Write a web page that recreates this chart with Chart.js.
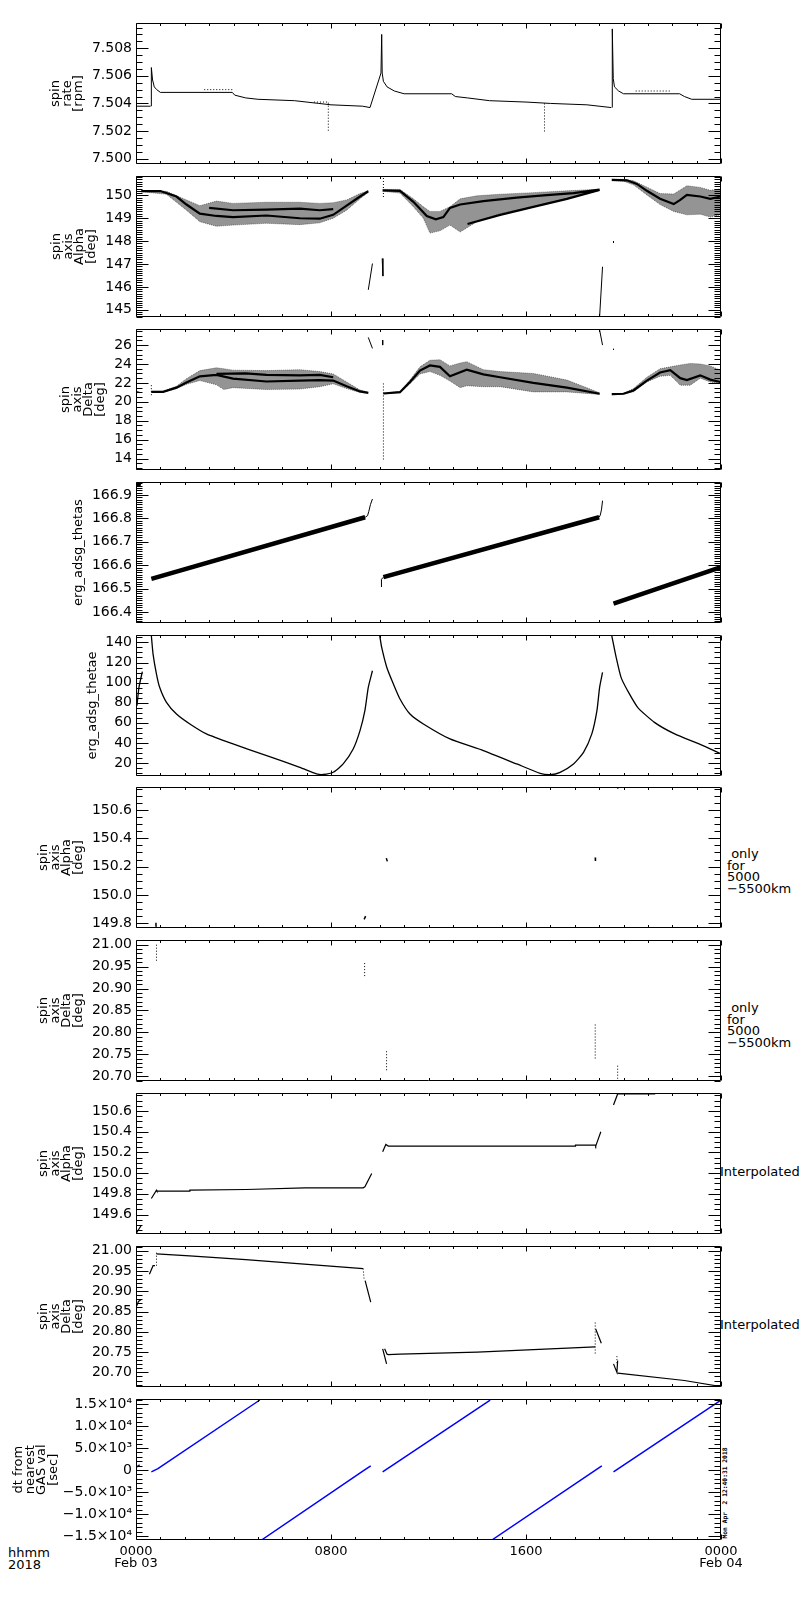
<!DOCTYPE html>
<html>
<head>
<script src="https://cdn.jsdelivr.net/npm/chart.js"></script>
<style>
    body {
        margin: 0;
        background: #fff;
        color: #000;
        font-family: 'DejaVu Sans', sans-serif;
    }
    #page {
        position: relative;
        width: 800px;
        height: 1600px;
        overflow: hidden;
    }
    .panel {
        position: absolute;
        left: 0;
    }
    /* annotations to the right of the panels */
    .note {
        position: absolute;
        font-size: 13px;
        line-height: 11.5px;
        white-space: pre;
    }
    .stamp {
        position: absolute;
        left: 675px;
        top: 1489px;
        width: 100px;
        height: 8px;
        font: bold 6.3px 'DejaVu Sans Mono', monospace;
        line-height: 8px;
        text-align: center;
        white-space: pre;
        transform: rotate(-90deg);
    }
</style>
</head>
<body>
<div id="page">
    <div class="note" style="left:727px; top:848px;"> only
for
5000
−5500km</div>
    <div class="note" style="left:727px; top:1002px;"> only
for
5000
−5500km</div>
    <div class="note" style="left:720px; top:1166px;">Interpolated</div>
    <div class="note" style="left:720px; top:1319px;">Interpolated</div>
    <div class="stamp">Mon Apr  2 12:40:31 2018</div>
    <div class="note" style="left:8px; top:1547px; line-height:12px;">hhmm
2018</div>
</div>

<script>
    // time axis: hours after 2018-02-03 00:00
    const hourTicks = [0, 8, 16, 24];
    const hourLabels = [['0000', 'Feb 03'], ['0800'], ['1600'], ['0000', 'Feb 04']];

    // ---- panel 1: spin rate [rpm]
    const spinRate = [
        [0, 7.5038], [0.6, 7.5038], null,
        [0.63, 7.5038], [0.63, 7.5066], [0.68, 7.5057], [0.75, 7.5052], [0.85, 7.5050], [1.0, 7.5048],
        [3.95, 7.5048], [4.05, 7.5046], [4.5, 7.5044], [5.0, 7.5043], [6.5, 7.5042], [7.5, 7.5040],
        [8.0, 7.5039], [9.3, 7.5038], [9.6, 7.5037], [10.05, 7.5062], [10.08, 7.5090], [10.1, 7.5062],
        [10.15, 7.5056], [10.3, 7.5052], [10.6, 7.5049], [11.0, 7.5047], [12.95, 7.5047], [13.1, 7.5045],
        [13.6, 7.5044], [14.5, 7.5042], [16.0, 7.5041], [17.0, 7.5040], [18.5, 7.5039], [19.5, 7.5037], null,
        [19.54, 7.5037], [19.54, 7.5094], [19.58, 7.5058], [19.63, 7.5052], [19.8, 7.5049], [20.0, 7.5047],
        [22.3, 7.5047], [22.5, 7.5045], [22.8, 7.5043], [24, 7.5043]
    ];
    const spinRateDots = [
        [2.8, 7.5050], [3.95, 7.5050], null,
        [7.3, 7.5041], [7.89, 7.5041], [7.89, 7.5019], null,
        [16.76, 7.5040], [16.76, 7.5019], null,
        [20.5, 7.5049], [21.9, 7.5049]
    ];

    // ---- panel 2: spin axis Alpha [deg]   band rows are [hour, low, high]
    const alphaBand1 = [
        [0.22, 150.16, 150.21], [1.25, 150.05, 150.18], [2.07, 149.35, 149.8], [2.62, 148.85, 149.55],
        [3.30, 148.65, 149.75], [3.98, 148.7, 149.65], [5.35, 148.78, 149.7], [6.72, 148.72, 149.7],
        [7.54, 148.8, 149.65], [8.09, 149.0, 149.68], [8.64, 149.35, 149.8], [9.19, 149.85, 150.08],
        [9.53, 150.14, 150.2]
    ];
    const alphaBand2 = [
        [10.12, 150.18, 150.26], [10.83, 150.1, 150.26], [11.38, 149.5, 149.85], [11.79, 149.0, 149.5],
        [12.06, 148.35, 149.3], [12.47, 148.45, 149.3], [12.88, 148.7, 149.5], [13.3, 148.4, 149.85],
        [13.98, 148.85, 149.98], [14.94, 149.2, 150.05], [16.30, 149.5, 150.12], [17.68, 149.85, 150.2],
        [19.02, 150.22, 150.27]
    ];
    const alphaBand3 = [
        [19.52, 150.64, 150.7], [20.0, 150.62, 150.7], [20.41, 150.46, 150.64], [20.96, 150.02, 150.36],
        [21.5, 149.6, 150.08], [22.06, 149.3, 150.06], [22.6, 149.15, 150.42], [23.15, 149.18, 150.35],
        [23.56, 149.05, 150.22], [23.97, 149.15, 150.28]
    ];
    const alphaTracks = [
        [0.22, 150.19], [1.0, 150.19], [1.66, 149.95], [2.07, 149.6], [2.62, 149.2], [3.30, 149.1],
        [3.98, 149.05], [5.35, 149.12], [6.72, 149.0], [7.54, 148.98], [8.09, 149.15], [8.64, 149.55],
        [9.19, 149.95], [9.53, 150.18], null,
        [3.0, 149.45], [3.98, 149.35], [5.35, 149.38], [6.72, 149.42], [7.54, 149.35], [8.09, 149.4], null,
        [10.12, 150.22], [10.83, 150.2], [11.38, 149.72], [11.93, 149.1], [12.3, 148.95], [12.61, 149.05],
        [12.88, 149.45], [13.3, 149.6], [14.25, 149.75], [15.62, 149.9], [16.72, 150.0], [17.95, 150.1],
        [19.02, 150.25], null,
        [13.6, 148.75], [14.94, 149.15], [16.30, 149.5], [17.68, 149.85], [19.02, 150.24], null,
        [19.52, 150.68], [20.14, 150.66], [20.55, 150.5], [20.96, 150.2], [21.5, 149.85], [22.06, 149.62],
        [22.33, 149.8], [22.6, 150.02], [23.15, 149.95], [23.56, 149.85], [23.97, 149.95]
    ];
    const alphaJumps = [
        [9.53, 145.87], [9.70, 147.02], null,
        [10.1, 147.24], [10.13, 146.47], null,
        [19.02, 144.7], [19.14, 146.88], null,
        [19.59, 148.0], [19.59, 147.92]
    ];
    const alphaDots = [[10.15, 150.76], [10.15, 149.87]];

    // ---- panel 3: spin axis Delta [deg]
    const deltaBand1 = [
        [0.63, 21.0, 21.12], [1.11, 21.0, 21.12], [1.66, 21.4, 21.65], [2.07, 21.85, 22.45],
        [2.62, 22.25, 23.3], [3.30, 21.8, 23.6], [3.6, 21.3, 23.5], [3.98, 21.5, 23.35],
        [5.35, 21.3, 23.3], [6.72, 21.35, 23.4], [7.54, 21.6, 23.2], [8.09, 21.9, 22.95],
        [8.64, 21.4, 22.1], [9.19, 20.98, 21.25], [9.53, 20.92, 21.02]
    ];
    const deltaBand2 = [
        [10.15, 20.84, 20.92], [10.83, 20.95, 21.1], [11.24, 21.9, 22.3], [11.65, 22.95, 23.7],
        [12.06, 23.2, 24.4], [12.47, 22.8, 24.45], [12.88, 22.2, 23.8], [13.3, 21.5, 24.1],
        [13.57, 21.7, 24.25], [14.25, 21.6, 23.4], [14.94, 21.6, 23.2], [16.30, 21.05, 23.0],
        [17.68, 21.05, 22.3], [19.02, 20.78, 20.95]
    ];
    const deltaBand3 = [
        [19.52, 20.74, 20.85], [20.0, 20.8, 20.9], [20.41, 21.06, 21.4], [20.96, 22.1, 22.6],
        [21.5, 22.7, 23.5], [21.92, 22.8, 23.7], [22.33, 21.76, 23.9], [22.74, 21.76, 24.06],
        [23.15, 22.5, 24.0], [23.56, 22.1, 23.8], [23.97, 21.9, 23.35]
    ];
    const deltaTracks = [
        [0.63, 21.06], [1.11, 21.06], [1.66, 21.5], [2.07, 22.05], [2.62, 22.7], [3.30, 22.85],
        [3.98, 22.45], [5.35, 22.15], [6.72, 22.25], [7.54, 22.3], [8.09, 22.25], [8.64, 21.65],
        [9.19, 21.1], [9.53, 20.95], null,
        [3.30, 22.95], [4.5, 23.0], [5.35, 22.85], [6.72, 22.8], [7.54, 22.85], [8.09, 22.6], null,
        [10.15, 20.88], [10.83, 21.02], [11.24, 22.1], [11.65, 23.3], [12.06, 23.85], [12.47, 23.7],
        [12.88, 22.7], [13.57, 23.4], [14.25, 22.9], [14.94, 22.6], [16.30, 22.0], [17.68, 21.5],
        [19.02, 20.85], null,
        [19.52, 20.81], [20.0, 20.85], [20.41, 21.2], [20.96, 22.25], [21.5, 23.1], [21.92, 23.35],
        [22.33, 22.5], [22.6, 22.3], [23.15, 22.8], [23.56, 22.35], [23.97, 22.1]
    ];
    const deltaJumps = [
        [0, 21.1], [0.15, 21.0], null,
        [9.53, 26.81], [9.70, 25.65], null,
        [10.12, 26.53], [10.12, 26.0], null,
        [19.02, 27.59], [19.14, 26.0], null,
        [19.59, 25.6], [19.59, 25.5]
    ];
    const deltaDots = [[0.63, 21.76], [0.63, 20.70], null, [10.15, 21.94], [10.15, 13.82]];

    // ---- panel 4: erg_adsg_thetas
    const thetasBand = [
        [0, 166.948], [0.2, 166.944], null,
        [0.63, 166.542], [9.4, 166.805], null,
        [10.15, 166.549], [19.0, 166.805], null,
        [19.59, 166.436], [24, 166.592]
    ];
    const thetasSteps = [
        [9.4, 166.805], [9.5, 166.812], [9.55, 166.83], [9.62, 166.86], [9.70, 166.883], null,
        [10.07, 166.507], [10.07, 166.54], [10.15, 166.549], null,
        [19.0, 166.805], [19.05, 166.815], [19.1, 166.84], [19.14, 166.876]
    ];

    // ---- panel 5: erg_adsg_thetae
    const thetae = [
        [0.04, 77], [0.12, 95], [0.26, 111], null,
        [0.63, 146.6], [0.70, 128.4], [0.84, 108.5], [0.97, 95.3], [1.25, 80.3], [1.66, 68.7], [2.21, 58.8],
        [2.89, 48.9], [3.98, 38.9], [5.36, 27.3], [6.72, 15.7], [7.41, 9.1], [7.68, 8.5], [8.09, 10.7],
        [8.5, 19.0], [8.91, 33.9], [9.19, 52.2], [9.39, 72.1], [9.53, 95.3], [9.70, 111.8], null,
        [10.0, 146.6], [10.08, 135], [10.29, 115.1], [10.56, 98.6], [10.83, 83.7], [11.24, 68.7],
        [11.79, 58.8], [12.88, 43.9], [14.25, 32.3], [15.62, 19.0], [16.58, 9.7], [17.0, 8.4], [17.4, 10.7],
        [17.95, 19.0], [18.36, 30.6], [18.7, 48.9], [18.91, 72.1], [19.02, 95.3], [19.14, 110.2], null,
        [19.52, 146.6], [19.7, 125.1], [19.9, 105.2], [20.17, 91.9], [20.58, 75.4], [21.27, 60.4],
        [22.1, 48.9], [23.1, 38.9], [24, 29.0]
    ];

    // ---- panels 6/7: spin axis only for 5000-5500 km
    const alphaShell = [
        [0.8, 149.78], [0.82, 149.805], null,
        [9.36, 149.828], [9.42, 149.851], null,
        [10.27, 150.26], [10.31, 150.237], null,
        [18.84, 150.265], [18.85, 150.24], null,
        [19.76, 150.755], [19.78, 150.75]
    ];
    const deltaShell = [
        [0.84, 21.0], [0.84, 20.962], null,
        [9.38, 20.958], [9.38, 20.924], null,
        [10.28, 20.757], [10.28, 20.711], null,
        [18.84, 20.818], [18.84, 20.738], null,
        [19.76, 20.724], [19.76, 20.689]
    ];

    // ---- panels 8/9: interpolated spin axis
    const alphaInterp = [
        [0, 149.416], [0.22, 149.497], null,
        [0.63, 149.755], [0.84, 149.835], [0.86, 149.826], [2.2, 149.826], [2.21, 149.835], [4.53, 149.842],
        [6.93, 149.858], [9.32, 149.858], [9.39, 149.868], [9.67, 149.997], null,
        [10.12, 150.206], [10.25, 150.277], [10.35, 150.261], [18.02, 150.261], [18.03, 150.271],
        [18.84, 150.271], [18.86, 150.261], [19.07, 150.4], null,
        [19.59, 150.658], [19.76, 150.765], [21.3, 150.765]
    ];
    const deltaInterp = [
        [0, 20.86], [0.1, 20.875], [0.22, 20.88], null,
        [0.55, 20.942], [0.7, 20.963], [0.78, 20.963], null,
        [0.84, 20.992], [2.2, 20.987], [4.5, 20.978], [6.9, 20.967], [9.32, 20.956], null,
        [9.4, 20.926], [9.63, 20.873], null,
        [10.12, 20.758], [10.28, 20.721], null,
        [10.2, 20.758], [10.3, 20.745], [10.35, 20.744], [10.83, 20.745], [14.0, 20.75], [17.0, 20.758],
        [18.84, 20.763], null,
        [18.86, 20.807], [19.09, 20.772], null,
        [19.59, 20.721], [19.73, 20.70], [19.76, 20.729], null,
        [19.76, 20.698], [22.5, 20.68], [24, 20.665]
    ];
    const deltaInterpDots = [
        [0.84, 20.963], [0.84, 21.0], null,
        [9.32, 20.956], [9.36, 20.928], null,
        [18.84, 20.823], [18.84, 20.745], null,
        [19.73, 20.74], [19.73, 20.72]
    ];

    // ---- panel 10: dt from nearest GAS val [sec]
    const dtGas = [
        [0, 570], [0.15, 1177], null,
        [0.63, -418], [0.9, 300], [5.08, 15911], null,
        [5.15, -15911], [9.32, -190], [9.63, 950], null,
        [10.12, -418], [14.53, 15911], null,
        [14.6, -15911], [19.11, 950], null,
        [19.59, -418], [24, 15911]
    ];

    // turn [hour, value] rows into chart points, null = gap
    function pts(arr) {
        const out = [];
        let lastX = 0;
        arr.forEach(p => {
            if (p === null) {
                out.push({x: lastX, y: null});
            } else {
                out.push({x: p[0], y: p[1]});
                lastX = p[0];
            }
        });
        return out;
    }

    function line(arr, extra) {
        return Object.assign({
            data: pts(arr),
            borderColor: '#000',
            borderWidth: 1,
            pointRadius: 0,
            fill: false,
            spanGaps: false,
            tension: 0
        }, extra || {});
    }

    // scattered cloud drawn as a shaded band between low and high edges
    function band(arr) {
        const hi = arr.map(p => [p[0], p[2]]);
        const lo = arr.map(p => [p[0], p[1]]);
        return [
            line(hi, {borderWidth: 0.8, borderColor: 'rgba(0,0,0,0.6)', borderDash: [1, 1], fill: '+1', backgroundColor: 'rgba(0,0,0,0.42)'}),
            line(lo, {borderWidth: 0.8, borderColor: 'rgba(0,0,0,0.6)', borderDash: [1, 1]})
        ];
    }

    const dotted = {borderDash: [1, 2]};
    const sup = {'3': '³', '4': '⁴'};

    function sciLabel(v) {
        if (v === 0) return '0';
        const e = Math.floor(Math.log10(Math.abs(v)) + 1e-9);
        const m = Math.abs(v) / Math.pow(10, e);
        return (v < 0 ? '−' : '') + m.toFixed(1) + '×10' + sup[e];
    }

    const panels = [
        {title: ['spin', 'rate', '[rpm]'], tx: 56, min: 7.49964, max: 7.5098, step: 0.002, minor: 0.0005, dec: 3,
         sets: [line(spinRate), line(spinRateDots, dotted)]},
        {title: ['spin', 'axis', 'Alpha', '[deg]'], tx: 57, min: 144.7, max: 150.83, step: 1, minor: 0.1, dec: 0,
         sets: [...band(alphaBand1), ...band(alphaBand2), ...band(alphaBand3),
                line(alphaTracks, {borderWidth: 2.2}), line(alphaJumps), line(alphaDots, dotted)]},
        {title: ['spin', 'axis', 'Delta', '[deg]'], tx: 66, min: 12.83, max: 27.66, step: 2, minor: 0.5, dec: 0,
         sets: [...band(deltaBand1), ...band(deltaBand2), ...band(deltaBand3),
                line(deltaTracks, {borderWidth: 2.2}), line(deltaJumps), line(deltaDots, dotted)]},
        {title: ['erg_adsg_thetas'], tx: 79, min: 166.355, max: 166.954, step: 0.1, minor: 0.01, dec: 1,
         sets: [line(thetasBand, {borderWidth: 4.5}), line(thetasSteps)]},
        {title: ['erg_adsg_thetae'], tx: 93, min: 7.4, max: 147, step: 20, minor: 5, dec: 0,
         sets: [line(thetae, {borderWidth: 1.3, tension: 0.2})]},
        {title: ['spin', 'axis', 'Alpha', '[deg]'], tx: 44, min: 149.77, max: 150.759, step: 0.2, minor: 0.05, dec: 1,
         sets: [line(alphaShell, {borderWidth: 1.5})]},
        {title: ['spin', 'axis', 'Delta', '[deg]'], tx: 44, min: 20.690, max: 21.0098, step: 0.05, minor: 0.01, dec: 2,
         sets: [line(deltaShell, dotted)]},
        {title: ['spin', 'axis', 'Alpha', '[deg]'], tx: 44, min: 149.416, max: 150.77, step: 0.2, minor: 0.05, dec: 1,
         sets: [line(alphaInterp, {borderWidth: 1.2})]},
        {title: ['spin', 'axis', 'Delta', '[deg]'], tx: 44, min: 20.665, max: 21.0106, step: 0.05, minor: 0.01, dec: 2,
         sets: [line(deltaInterp, {borderWidth: 1.2}), line(deltaInterpDots, dotted)]},
        {title: ['dt from', 'nearest', 'GAS val', '[sec]'], tx: 19, min: -15911, max: 16048, step: 5000, minor: 1000, dec: -1,
         sets: [line(dtGas, {borderColor: '#0000ff', borderWidth: 1.5})]}
    ];

    const panelTop = [23, 176, 329, 482, 635, 787, 940, 1093, 1246, 1399];
    const plotH = 141;
    const pad = 12;
    const axisW = 136;
    const rightPad = 79;
    const xAxisH = 45;

    // IDL style frame with inward ticks on all four sides
    const idlAxes = {
        id: 'idlAxes',
        afterDatasetsDraw(chart, args, opts) {
            const {ctx, chartArea: a} = chart;
            const x = chart.scales.x;
            const y = chart.scales.y;
            const L = Math.round(a.left) + 0.5, R = Math.round(a.right) - 0.5;
            const T = Math.round(a.top) + 0.5, B = Math.round(a.bottom) - 0.5;
            ctx.save();
            ctx.strokeStyle = '#000';
            ctx.lineWidth = 1;
            ctx.beginPath();
            ctx.rect(L, T, R - L, B - T);
            const yTick = (v, len) => {
                const p = Math.round(y.getPixelForValue(v)) + 0.5;
                ctx.moveTo(L, p); ctx.lineTo(L + len, p);
                ctx.moveTo(R, p); ctx.lineTo(R - len, p);
            };
            for (let k = Math.ceil(y.min / opts.minor - 1e-6); k * opts.minor <= y.max + 1e-9; k++) {
                yTick(k * opts.minor, 6);
            }
            y.ticks.forEach(t => yTick(t.value, 12));
            for (let h = 0; h <= 24; h++) {
                const p = Math.round(x.getPixelForValue(h)) + 0.5;
                const len = h % 8 === 0 ? 5 : 2.5;
                ctx.moveTo(p, T); ctx.lineTo(p, T + len);
                ctx.moveTo(p, B); ctx.lineTo(p, B - len);
            }
            ctx.stroke();
            ctx.restore();
        }
    };

    const page = document.getElementById('page');

    panels.forEach((pn, i) => {
        const last = i === panels.length - 1;
        const h = pad + plotH + (last ? xAxisH : pad);
        const canvas = document.createElement('canvas');
        canvas.className = 'panel';
        canvas.width = 800;
        canvas.height = h;
        canvas.style.top = (panelTop[i] - pad) + 'px';
        canvas.style.width = '800px';
        canvas.style.height = h + 'px';
        page.appendChild(canvas);

        const majors = [];
        for (let k = Math.ceil(pn.min / pn.step - 1e-9); k * pn.step <= pn.max + 1e-9; k++) {
            majors.push(Math.round(k * pn.step * 1e6) / 1e6);
        }

        new Chart(canvas, {
            type: 'line',
            data: {datasets: pn.sets},
            plugins: [idlAxes],
            options: {
                responsive: false,
                animation: false,
                events: [],
                layout: {padding: {top: pad, bottom: last ? 0 : pad, left: 0, right: rightPad}},
                plugins: {
                    legend: {display: false},
                    tooltip: {enabled: false},
                    idlAxes: {minor: pn.minor}
                },
                scales: {
                    x: {
                        type: 'linear',
                        min: 0,
                        max: 24,
                        display: last,
                        grid: {display: false, drawTicks: false},
                        border: {display: false},
                        afterBuildTicks: s => { s.ticks = hourTicks.map(v => ({value: v})); },
                        afterFit: s => { if (last) s.height = xAxisH; },
                        ticks: {
                            autoSkip: false,
                            maxRotation: 0,
                            padding: 6,
                            color: '#000',
                            font: {family: 'DejaVu Sans', size: 13, lineHeight: '12px'},
                            callback: v => hourLabels[hourTicks.indexOf(v)]
                        }
                    },
                    y: {
                        type: 'linear',
                        min: pn.min,
                        max: pn.max,
                        grid: {display: false, drawTicks: false},
                        border: {display: false},
                        afterBuildTicks: s => { s.ticks = majors.map(v => ({value: v})); },
                        afterFit: s => { s.width = axisW; },
                        ticks: {
                            autoSkip: false,
                            padding: 4,
                            color: '#000',
                            font: {family: 'DejaVu Sans', size: 14},
                            callback: v => pn.dec < 0 ? sciLabel(v) : Number(v).toFixed(pn.dec)
                        },
                        title: {
                            display: true,
                            text: pn.title,
                            color: '#000',
                            font: {family: 'DejaVu Sans', size: 13, lineHeight: '11.5px'},
                            padding: {top: pn.tx - 5.75, bottom: 0}
                        }
                    }
                }
            }
        });
    });
</script>
</body>
</html>
